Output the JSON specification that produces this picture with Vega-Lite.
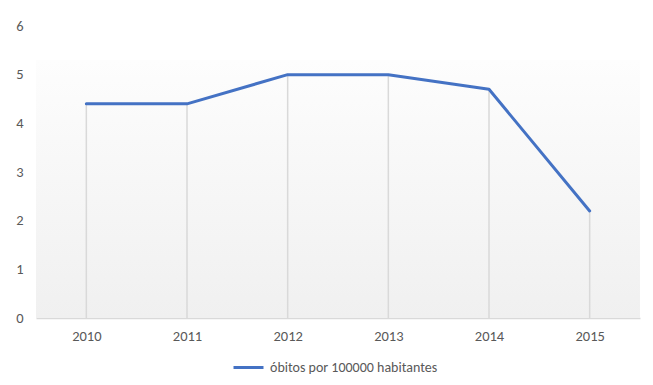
{
  "$schema": "https://vega.github.io/schema/vega-lite/v6.json",
  "width": 604,
  "height": 292,
  "autosize": {"type": "none"},
  "padding": {"left": 36, "top": 26, "right": 13, "bottom": 67},
  "background": "#ffffff",
  "config": {
    "view": {"stroke": null},
    "font": "Carlito, Lato, Liberation Sans",
    "axisX": {
      "title": null,
      "labelAngle": 0,
      "ticks": false,
      "domainColor": "#d9d9d9",
      "domainWidth": 1.5,
      "labelColor": "#595959",
      "labelFontSize": 14.5,
      "labelPadding": 18,
      "labelBaseline": "middle"
    },
    "axisY": {
      "title": null,
      "grid": false,
      "ticks": false,
      "domain": false,
      "labelColor": "#595959",
      "labelFontSize": 14.5,
      "labelPadding": 13
    }
  },
  "datasets": {
    "serie": [
      {"ano": "2010", "valor": 4.4, "serie": "óbitos por 100000 habitantes"},
      {"ano": "2011", "valor": 4.4, "serie": "óbitos por 100000 habitantes"},
      {"ano": "2012", "valor": 5.0, "serie": "óbitos por 100000 habitantes"},
      {"ano": "2013", "valor": 5.0, "serie": "óbitos por 100000 habitantes"},
      {"ano": "2014", "valor": 4.7, "serie": "óbitos por 100000 habitantes"},
      {"ano": "2015", "valor": 2.2, "serie": "óbitos por 100000 habitantes"}
    ],
    "fundo": [{"topo": 5.3, "base": 0}]
  },
  "layer": [
    {
      "data": {"name": "fundo"},
      "mark": {
        "type": "rect",
        "color": {
          "gradient": "linear",
          "x1": 0, "y1": 0, "x2": 0, "y2": 1,
          "stops": [
            {"offset": 0, "color": "#fdfdfd"},
            {"offset": 1, "color": "#f0f0f0"}
          ]
        }
      },
      "encoding": {
        "y": {"field": "topo", "type": "quantitative", "scale": {"domain": [0, 6], "nice": false}, "axis": {"values": [0, 1, 2, 3, 4, 5, 6]}},
        "y2": {"field": "base"}
      }
    },
    {
      "data": {"name": "serie"},
      "mark": {"type": "rule", "color": "#d9d9d9", "strokeWidth": 1.5},
      "encoding": {
        "x": {"field": "ano", "type": "ordinal", "scale": {"type": "point", "padding": 0.5}},
        "y": {"field": "valor", "type": "quantitative"},
        "y2": {"datum": 0}
      }
    },
    {
      "data": {"name": "serie"},
      "mark": {"type": "line", "strokeWidth": 3, "strokeCap": "round", "strokeJoin": "round"},
      "encoding": {
        "x": {
          "field": "ano",
          "type": "ordinal",
          "scale": {"type": "point", "padding": 0.5}
        },
        "y": {
          "field": "valor",
          "type": "quantitative",
          "scale": {"domain": [0, 6], "nice": false},
          "axis": {"values": [0, 1, 2, 3, 4, 5, 6]}
        },
        "color": {
          "field": "serie",
          "type": "nominal",
          "scale": {"range": ["#4472c4"]},
          "legend": {
            "title": null,
            "orient": "none",
            "legendX": 196,
            "legendY": 325,
            "symbolType": "stroke",
            "symbolSize": 900,
            "symbolStrokeWidth": 3,
            "labelColor": "#595959",
            "labelFontSize": 14,
            "labelLimit": 400,
            "labelOffset": 5
          }
        }
      }
    }
  ]
}
